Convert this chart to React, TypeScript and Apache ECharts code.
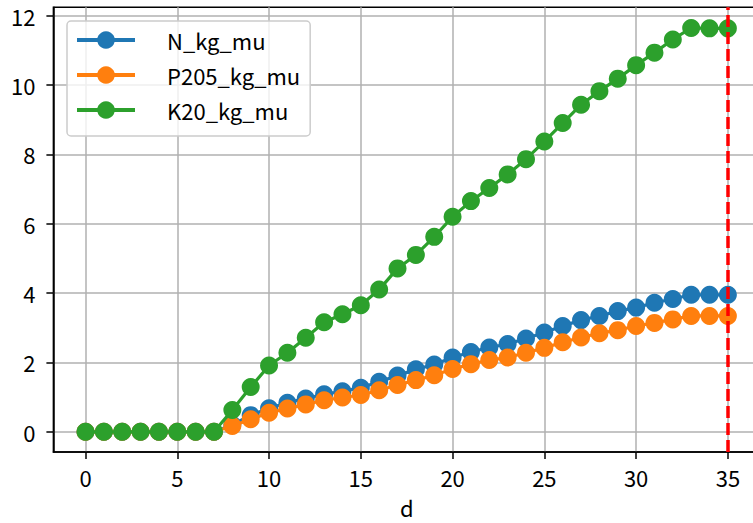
import React, { useEffect, useRef } from "react";
import * as echarts from "echarts";

const days = [0, 1, 2, 3, 4, 5, 6, 7, 8, 9, 10, 11, 12, 13, 14, 15, 16, 17, 18, 19, 20, 21, 22, 23, 24, 25, 26, 27, 28, 29, 30, 31, 32, 33, 34, 35];
const nKgMu = [0, 0, 0, 0, 0, 0, 0, 0, 0.2, 0.48, 0.68, 0.84, 0.96, 1.08, 1.17, 1.27, 1.44, 1.62, 1.8, 1.94, 2.14, 2.3, 2.43, 2.53, 2.69, 2.86, 3.05, 3.22, 3.34, 3.48, 3.58, 3.72, 3.83, 3.95, 3.95, 3.95];
const p2o5KgMu = [0, 0, 0, 0, 0, 0, 0, 0, 0.17, 0.36, 0.55, 0.67, 0.79, 0.91, 0.99, 1.06, 1.2, 1.35, 1.49, 1.63, 1.81, 1.95, 2.07, 2.14, 2.28, 2.42, 2.58, 2.72, 2.84, 2.93, 3.05, 3.14, 3.24, 3.34, 3.34, 3.34];
const k2oKgMu = [0, 0, 0, 0, 0, 0, 0, 0, 0.63, 1.29, 1.91, 2.28, 2.71, 3.16, 3.39, 3.65, 4.1, 4.71, 5.1, 5.62, 6.2, 6.65, 7.03, 7.42, 7.86, 8.37, 8.9, 9.43, 9.82, 10.18, 10.57, 10.93, 11.31, 11.64, 11.63, 11.63];
const seriesNames = ["N_kg_mu", "P205_kg_mu", "K20_kg_mu"];
const xTicks = [0, 5, 10, 15, 20, 25, 30, 35];
const yTicks = [0, 2, 4, 6, 8, 10, 12];
const markerDay = 35;

const FONT = '"Noto Sans CJK JP", "Noto Sans", sans-serif';
const colors = ["#1f77b4", "#ff7f0e", "#2ca02c"];

export default function App() {
  const ref = useRef<HTMLDivElement>(null);
  useEffect(() => {
    document.body.style.margin = "0";
    const chart = echarts.init(ref.current!, null, { renderer: "svg" });
    const seriesData = [nKgMu, p2o5KgMu, k2oKgMu];
    const lineSeries = seriesData.map((vals, i) => ({
      name: seriesNames[i],
      type: "line",
      data: days.map((d, j) => [d, vals[j]]),
      symbol: "circle",
      symbolSize: 18,
      showSymbol: true,
      clip: false,
      z: 3 + i,
      lineStyle: { color: colors[i], width: 3.2 },
      itemStyle: { color: colors[i], borderWidth: 0 },
    }));
    chart.setOption({
      animation: false,
      grid: {
        left: 53.4,
        top: 7.2,
        width: 706.6,
        height: 444.8,
        outerBoundsMode: "none",
        containLabel: false,
        show: true,
        borderColor: "#000",
        borderWidth: 1.5,
        backgroundColor: "transparent",
      },
      legend: {
        data: seriesNames,
        orient: "vertical",
        left: 67,
        top: 21,
        padding: [8, 10, 15, 8],
        itemGap: 13,
        itemWidth: 58,
        itemHeight: 22,
        borderColor: "#cccccc",
        borderWidth: 1.5,
        borderRadius: 4,
        backgroundColor: "rgba(255,255,255,0.8)",
        selectedMode: false,
        lineStyle: { width: 4 },
        textStyle: {
          fontFamily: FONT,
          fontSize: 22,
          lineHeight: 22,
          color: "#000",
          padding: [0, 0, 0, 27],
        },
      },
      xAxis: {
        type: "value",
        min: -1.75,
        max: 36.75,
        name: "d",
        nameLocation: "middle",
        nameGap: 45,
        nameTextStyle: { fontFamily: FONT, fontSize: 22, lineHeight: 20, color: "#000" },
        axisLine: { show: true, onZero: false, lineStyle: { color: "#000", width: 1.5 } },
        axisTick: { show: true, length: 7, lineStyle: { color: "#000", width: 1.5 }, customValues: xTicks },
        axisLabel: { fontFamily: FONT, fontSize: 22, color: "#000", margin: 14, customValues: xTicks },
        splitLine: { show: true, lineStyle: { color: "#b0b0b0", width: 1.5 } },
      },
      yAxis: {
        type: "value",
        min: -0.582,
        max: 12.24,
        axisLine: { show: true, onZero: false, lineStyle: { color: "#000", width: 1.5 } },
        axisTick: { show: true, length: 7, lineStyle: { color: "#000", width: 1.5 }, customValues: yTicks },
        axisLabel: { fontFamily: FONT, fontSize: 22, color: "#000", margin: 18, customValues: yTicks },
        splitLine: { show: true, lineStyle: { color: "#b0b0b0", width: 1.5 } },
      },
      series: [
        ...lineSeries,
        {
          name: "vline",
          type: "line",
          data: [],
          z: 10,
          markLine: {
            silent: true,
            symbol: ["none", "none"],
            label: { show: false },
            lineStyle: { color: "#ff0000", type: [12, 5], width: 3.5 },
            emphasis: { disabled: true },
            data: [{ xAxis: markerDay }],
            z: 10,
          },
        },
      ],
    });
    return () => chart.dispose();
  }, []);
  return <div ref={ref} style={{ width: 753, height: 523 }} />;
}
